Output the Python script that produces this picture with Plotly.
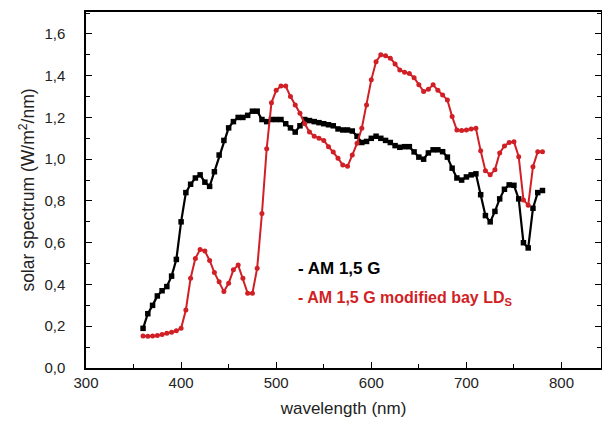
import plotly.graph_objects as go

wavelength = list(range(360, 785, 5))

am15g = [0.19, 0.26, 0.30, 0.345, 0.37, 0.39, 0.44, 0.52, 0.70, 0.84,
         0.88, 0.91, 0.925, 0.89, 0.87, 0.94, 1.02, 1.09, 1.15, 1.18,
         1.20, 1.20, 1.21, 1.23, 1.23, 1.19, 1.18, 1.19, 1.19, 1.19,
         1.17, 1.15, 1.13, 1.16, 1.19, 1.185, 1.18, 1.175, 1.17, 1.165,
         1.16, 1.145, 1.14, 1.14, 1.135, 1.11, 1.08, 1.085, 1.10, 1.11,
         1.10, 1.09, 1.08, 1.065, 1.057, 1.06, 1.06, 1.035, 1.01, 1.00,
         1.03, 1.045, 1.045, 1.036, 1.01, 0.957, 0.91, 0.90, 0.915, 0.925,
         0.93, 0.83, 0.73, 0.70, 0.75, 0.81, 0.856, 0.877, 0.875, 0.81,
         0.60, 0.575, 0.765, 0.84, 0.85]

am15g_mod = [0.153, 0.152, 0.153, 0.156, 0.16, 0.166, 0.171, 0.178, 0.19, 0.278,
             0.43, 0.525, 0.568, 0.56, 0.515, 0.457, 0.413, 0.366, 0.406, 0.47,
             0.493, 0.43, 0.358, 0.358, 0.478, 0.74, 1.05, 1.27, 1.33, 1.35,
             1.35, 1.30, 1.26, 1.22, 1.17, 1.13, 1.11, 1.10, 1.09, 1.06,
             1.035, 1.005, 0.972, 0.966, 1.02, 1.076, 1.148, 1.26, 1.38, 1.467,
             1.50, 1.495, 1.484, 1.456, 1.427, 1.417, 1.41, 1.39, 1.356, 1.324,
             1.335, 1.356, 1.33, 1.308, 1.284, 1.204, 1.14, 1.137, 1.14, 1.145,
             1.148, 1.04, 0.945, 0.925, 0.949, 1.03, 1.063, 1.08, 1.084, 1.012,
             0.805, 0.78, 0.964, 1.036, 1.036]

x_ticks = [300, 400, 500, 600, 700, 800]
y_ticks = [0.0, 0.2, 0.4, 0.6, 0.8, 1.0, 1.2, 1.4, 1.6]
y_ticktext = [f"{v:.1f}".replace(".", ",") for v in y_ticks]

RED = "#d11f26"
FONT = "Liberation Sans, Arial, sans-serif"

# the page body adds an 8px offset; size the figure so it fits the window
OFF = 8
W, H = 610 - 2 * OFF, 426 - 2 * OFF
L, T = 86 - OFF, 12 - OFF
R = 1
B = H - (368 - OFF)          # x axis at screen y ~368
pw, ph = W - L - R, H - T - B


def px_to_paper(px, py):
    return (px - OFF - L) / pw, 1 - (py - OFF - T) / ph


fig = go.Figure()
fig.add_trace(go.Scatter(
    x=wavelength, y=am15g, mode="lines+markers", name="AM 1,5 G",
    line=dict(color="black", width=2.2),
    marker=dict(symbol="square", size=5.5, color="black"),
))
fig.add_trace(go.Scatter(
    x=wavelength, y=am15g_mod, mode="lines+markers", name="AM 1,5 G modified bay LDs",
    line=dict(color=RED, width=2),
    marker=dict(symbol="circle", size=5, color=RED),
))

ax, ay = px_to_paper(296, 268)
fig.add_annotation(x=ax, y=ay, xref="paper", yref="paper", text="<b>- AM 1,5 G</b>",
                   showarrow=False, xanchor="left", yanchor="middle",
                   font=dict(family=FONT, size=17, color="black"))
ax, ay = px_to_paper(296, 298)
fig.add_annotation(x=ax, y=ay, xref="paper", yref="paper",
                   text="<b>- AM 1,5 G modified bay LD<sub>S</sub></b>",
                   showarrow=False, xanchor="left", yanchor="middle",
                   font=dict(family=FONT, size=16, color=RED))

fig.update_layout(
    width=W, height=H,
    margin=dict(l=L, r=R, t=T, b=B, autoexpand=False),
    paper_bgcolor="white", plot_bgcolor="white",
    showlegend=False,
    font=dict(family=FONT, size=15, color="#222"),
)
# x range end chosen so 100 nm spans ~95 px as in the reference
x_end = 300 + (pw / 95.1) * 100
fig.update_xaxes(
    range=[300, x_end], tickvals=x_ticks, ticktext=[str(v) for v in x_ticks],
    ticks="inside", ticklen=6, tickwidth=1, tickcolor="black",
    minor=dict(ticks="inside", ticklen=4, dtick=50, tick0=300, tickcolor="black"),
    showline=True, linecolor="black", linewidth=1.5, mirror=True,
    showgrid=False, zeroline=False, automargin=False,
    title=dict(text="wavelength (nm)", font=dict(size=17, color="#222"), standoff=12),
    tickfont=dict(size=15, color="#222"),
)
fig.update_yaxes(
    range=[0, 1.705], tickvals=y_ticks, ticktext=y_ticktext,
    ticks="inside", ticklen=6, tickwidth=1, tickcolor="black",
    minor=dict(ticks="inside", ticklen=4, dtick=0.1, tick0=0, tickcolor="black"),
    showline=True, linecolor="black", linewidth=1.5, mirror="ticks",
    showgrid=False, zeroline=False, automargin=False, ticklabelstandoff=16,
    title=dict(text="solar spectrum (W/m<sup>2</sup>/nm)", font=dict(size=17.5, color="#222"), standoff=5),
    tickfont=dict(size=15, color="#222"),
)

fig.write_html("out.html")
